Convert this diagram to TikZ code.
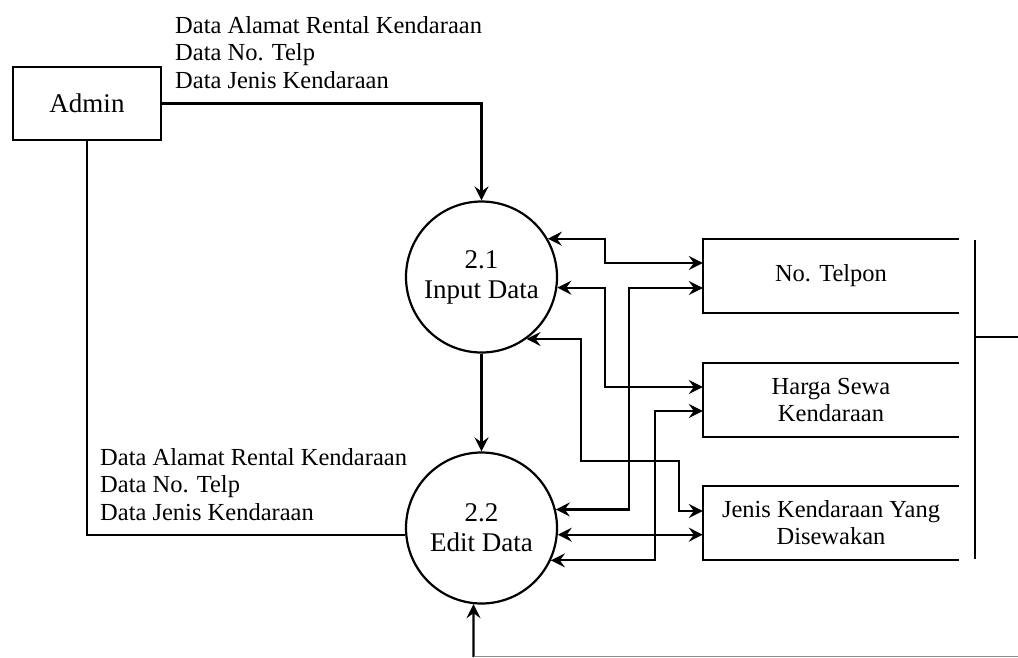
\documentclass[tikz,border=0pt]{standalone}
\usepackage{fontspec}
\setmainfont{Liberation Serif}
\usetikzlibrary{arrows.meta,calc}
\begin{document}
\begin{tikzpicture}[x=1pt,y=-1pt,
  ln/.style={line width=2.2pt},
  tip/.tip={Stealth[length=14pt,width=14pt,inset=5pt]},
  arr/.style={ln,-tip},
  dbl/.style={ln,tip-tip},
  proc/.style={circle,draw,ln,minimum size=151pt,inner sep=0pt,align=center,font=\fontsize{27}{30}\selectfont},
  ent/.style={rectangle,draw,ln,minimum width=148pt,minimum height=73pt,font=\fontsize{27}{29}\selectfont},
  storetext/.style={minimum width=256pt,minimum height=74pt,inner sep=0pt,align=center,font=\fontsize{24.5}{27}\selectfont},
  lbl/.style={anchor=north west,inner sep=0pt,align=left,font=\fontsize{24.5}{27.5}\selectfont}
]
\useasboundingbox (0,0) rectangle (1018,657);

\node[ent] (admin) at (87,103.5) {Admin};
\node[proc] (c1) at (481.5,277) {2.1\\Input Data};
\node[proc] (c2) at (481.5,528) {2.2\\Edit Data};

\node[storetext] (s1) at (831,276) {No. Telpon};
\node[storetext] (s2) at (831,400) {Harga Sewa\\Kendaraan};
\node[storetext] (s3) at (831,523) {Jenis Kendaraan Yang\\Disewakan};
\foreach \s in {s1,s2,s3}
  \draw[ln] (\s.north east) -- (\s.north west) -- (\s.south west) -- (\s.south east);

\draw[ln] (975,240) -- (975,559);
\draw[ln] (975,337) -- (1018,337);

\node[lbl] (lt) at (175,16) {Data Alamat Rental Kendaraan\\Data No. Telp\\Data Jenis Kendaraan};
\node[lbl] (lb) at (100,448) {Data Alamat Rental Kendaraan\\Data No. Telp\\Data Jenis Kendaraan};

\coordinate (t1a) at ($(s1.west)+(0,-13)$);
\coordinate (t1b) at ($(s1.west)+(0,12)$);
\coordinate (t2a) at ($(s2.west)+(0,-13)$);
\coordinate (t2b) at ($(s2.west)+(0,11)$);
\coordinate (t3a) at ($(s3.west)+(0,-12)$);

\draw[arr] (admin.east) -| (c1.north);
\draw[ln] (admin.south) |- (c2.185);
\draw[arr] (c1.south) -- (c2.north);

\draw[dbl] (c1.30) -| (605,250) |- (t1a);
\draw[dbl] (c1.-8) -| (605,330) |- (t2a);
\draw[dbl] (c2.14) -| (629,400) |- (t1b);
\draw[dbl] (c1.-54) -| (581,461) -| (679,490) |- (t3a);
\draw[dbl] (c2.-25) -| (655,480) |- (t2b);
\draw[dbl] (c2.-5) -- (c2.-5 -| s3.west);

\coordinate (bot) at (473.5,657);
\draw[arr] (bot) -- (c2.-96);
\draw[line width=1pt,black!45] (473.5,656.5) -- (1018,656.5);
\end{tikzpicture}
\end{document}
